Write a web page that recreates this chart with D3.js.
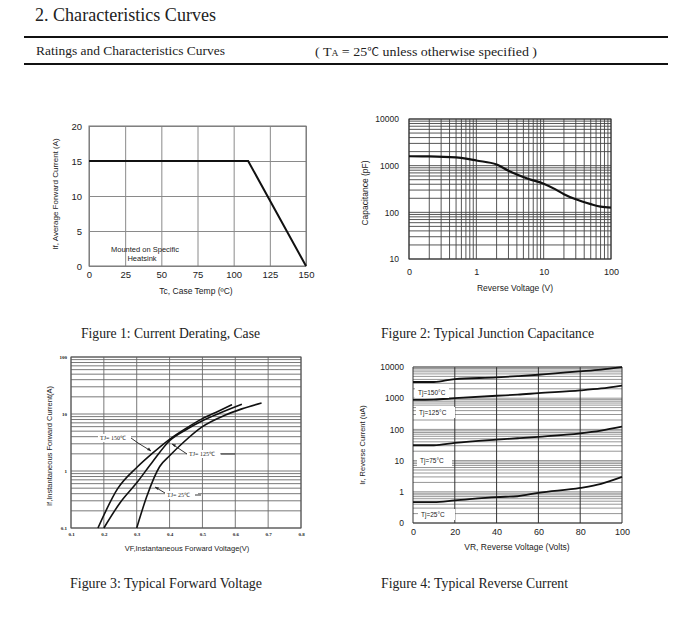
<!DOCTYPE html>
<html><head><meta charset="utf-8">
<script src="https://cdn.jsdelivr.net/npm/d3@7"></script>
<style>
body{margin:0;background:#fff;}
svg text{fill:#222;}
</style></head>
<body>
<svg id="c" width="700" height="627"></svg>
<script>
// ---------- DATA ----------
// Figure 1: Current derating
const derateTemp = [0, 110, 150];
const derateCurrent = [15, 15, 0];
const fig1XTicks = [0, 25, 50, 75, 100, 125, 150];
const fig1YTicks = [0, 5, 10, 15, 20];

// Figure 2: Junction capacitance (V, pF)
const capVoltage = [0.1, 0.2, 0.5, 0.7, 1, 2, 3, 4, 6, 10, 15, 20, 30, 50, 70, 100];
const capValue   = [1590, 1580, 1500, 1420, 1290, 1060, 780, 650, 520, 410, 310, 245, 190, 150, 132, 126];
const fig2XTicks = [0.1, 1, 10, 100];
const fig2XLabels = ["0", "1", "10", "100"];
const fig2YTicks = [10, 100, 1000, 10000];

// Figure 3: Forward voltage (V, A)
const vf150 = [0.182, 0.242, 0.30, 0.35, 0.40, 0.45, 0.50, 0.55, 0.59];
const if150 = [0.1, 0.49, 1.15, 2.1, 3.6, 5.6, 8.3, 11.3, 14.6];
const vf125 = [0.20, 0.25, 0.30, 0.35, 0.40, 0.45, 0.50, 0.55, 0.62];
const if125 = [0.1, 0.28, 0.62, 1.5, 3.4, 5.3, 7.6, 10.2, 14.8];
const vf25  = [0.30, 0.33, 0.37, 0.40, 0.44, 0.50, 0.57, 0.62, 0.68];
const if25  = [0.1, 0.35, 1.2, 1.85, 3.1, 6.0, 9.6, 12.3, 15.6];
const fig3XTicks = [0.1, 0.2, 0.3, 0.4, 0.5, 0.6, 0.7, 0.8];
const fig3YTicks = [0.1, 1, 10, 100];

// Figure 4: Reverse current (V, uA)
const vrVolt = [0, 10, 20, 40, 50, 60, 80, 90, 100];
const ir150 = [3300, 3300, 4100, 4650, 5100, 5650, 7250, 8300, 10000];
const ir125 = [880, 900, 1000, 1200, 1300, 1450, 1770, 2050, 2550];
const ir75  = [31, 31, 37, 47, 52, 58, 75, 92, 122];
const ir25  = [0.47, 0.47, 0.53, 0.68, 0.72, 0.93, 1.33, 1.8, 3.0];
const fig4XTicks = [0, 20, 40, 60, 80, 100];
const fig4YTicks = [0.1, 1, 10, 100, 1000, 10000];
const fig4YLabels = ["0", "1", "10", "100", "1000", "10000"];

// ---------- DRAW ----------
const svg = d3.select("#c");
const serif = "'Liberation Serif','Times New Roman',serif";
const sans = "'Liberation Sans',Arial,sans-serif";

// Header
svg.append("text").attr("x", 35).attr("y", 21).attr("font-family", serif).attr("font-size", 19)
  .attr("textLength", 181).attr("lengthAdjust", "spacingAndGlyphs").text("2. Characteristics Curves");
svg.append("line").attr("x1", 24).attr("x2", 668).attr("y1", 37).attr("y2", 37).attr("stroke", "#111").attr("stroke-width", 2);
svg.append("line").attr("x1", 24).attr("x2", 668).attr("y1", 64).attr("y2", 64).attr("stroke", "#111").attr("stroke-width", 2);
svg.append("text").attr("x", 36).attr("y", 55).attr("font-family", serif).attr("font-size", 13)
  .attr("textLength", 189).attr("lengthAdjust", "spacingAndGlyphs").text("Ratings and Characteristics Curves");
const sub = svg.append("text").attr("x", 315).attr("y", 56).attr("font-family", serif).attr("font-size", 13)
  .attr("textLength", 222).attr("lengthAdjust", "spacingAndGlyphs");
sub.append("tspan").text("( T");
sub.append("tspan").attr("font-size", 9).text("A");
sub.append("tspan").text(" = 25");
sub.append("tspan").attr("font-family", "'Noto Sans CJK SC',serif").attr("font-size", 11).text("℃");
sub.append("tspan").text("  unless otherwise specified )");

// captions
const caps = [["Figure 1: Current Derating, Case", 81, 338, 179], ["Figure 2: Typical Junction Capacitance", 381, 338, 213],
              ["Figure 3: Typical Forward Voltage", 70, 588, 192], ["Figure 4: Typical Reverse Current", 381, 588, 187]];
caps.forEach(c => svg.append("text").attr("x", c[1]).attr("y", c[2]).attr("font-family", serif).attr("font-size", 14)
  .attr("textLength", c[3]).attr("lengthAdjust", "spacingAndGlyphs").text(c[0]));

function logGrid(min, max) {
  const out = [];
  for (let e = Math.floor(Math.log10(min)); e < Math.ceil(Math.log10(max)); e++) {
    for (let d = 1; d <= 9; d++) { const v = d * Math.pow(10, e); if (v >= min && v <= max) out.push(v); }
  }
  out.push(max);
  return out;
}
function zip(a, b) { return a.map((v, i) => [v, b[i]]); }

// ---------- Figure 1 ----------
{
  const x = d3.scaleLinear().domain([0, 150]).range([89, 306]);
  const y = d3.scaleLinear().domain([0, 20]).range([266, 126]);
  const g = svg.append("g");
  g.append("g").attr("transform", "translate(0,266)")
    .call(d3.axisBottom(x).tickValues(fig1XTicks).tickSize(-140).tickSizeOuter(0).tickPadding(5))
    .call(a => { a.select(".domain").remove(); a.selectAll("line").attr("stroke", "#8a8a8a"); a.selectAll("text").attr("font-family", sans).attr("font-size", 9.5).attr("fill", "#222"); });
  g.append("g").attr("transform", "translate(89,0)")
    .call(d3.axisLeft(y).tickValues(fig1YTicks).tickSize(-217).tickSizeOuter(0).tickPadding(7))
    .call(a => { a.select(".domain").remove(); a.selectAll("line").attr("stroke", "#8a8a8a"); a.selectAll("text").attr("font-family", sans).attr("font-size", 9.5).attr("fill", "#222"); });
  g.append("rect").attr("x", 89).attr("y", 126).attr("width", 217).attr("height", 140).attr("fill", "none").attr("stroke", "#777");
  g.append("path").datum(zip(derateTemp, derateCurrent)).attr("fill", "none").attr("stroke", "#111").attr("stroke-width", 2)
    .attr("d", d3.line().x(d => x(d[0])).y(d => y(d[1])));
  g.append("text").attr("x", 145).attr("y", 252).attr("text-anchor", "middle").attr("font-family", sans).attr("font-size", 7.5).text("Mounted on Specific");
  g.append("text").attr("x", 142).attr("y", 261).attr("text-anchor", "middle").attr("font-family", sans).attr("font-size", 7.5).text("Heatsink");
  g.append("text").attr("x", 196).attr("y", 294).attr("text-anchor", "middle").attr("font-family", sans).attr("font-size", 8.5).text("Tc, Case Temp (ºC)");
  g.append("text").attr("transform", "translate(58,194) rotate(-90)").attr("text-anchor", "middle").attr("font-family", sans).attr("font-size", 8).text("If, Average Forward Current (A)");
}

// ---------- Figure 2 ----------
{
  const x = d3.scaleLog().domain([0.1, 100]).range([409, 611]);
  const y = d3.scaleLog().domain([10, 10000]).range([259, 119]);
  const g = svg.append("g");
  g.selectAll(".vx").data(logGrid(0.1, 100)).join("line").attr("x1", d => x(d)).attr("x2", d => x(d)).attr("y1", 119).attr("y2", 259).attr("stroke", "#444").attr("stroke-width", 0.9);
  g.selectAll(".hy").data(logGrid(10, 10000)).join("line").attr("y1", d => y(d)).attr("y2", d => y(d)).attr("x1", 409).attr("x2", 611).attr("stroke", "#444").attr("stroke-width", 0.9);
  g.append("rect").attr("x", 409).attr("y", 119).attr("width", 202).attr("height", 140).attr("fill", "none").attr("stroke", "#333");
  g.append("g").attr("transform", "translate(0,259)")
    .call(d3.axisBottom(x).tickValues(fig2XTicks).tickFormat((d, i) => fig2XLabels[i]).tickSize(0).tickPadding(10))
    .call(a => { a.select(".domain").remove(); a.selectAll("text").attr("font-family", sans).attr("font-size", 9).attr("fill", "#222"); });
  g.append("g").attr("transform", "translate(409,0)")
    .call(d3.axisLeft(y).tickValues(fig2YTicks).tickFormat(d3.format("d")).tickSize(0).tickPadding(10))
    .call(a => { a.select(".domain").remove(); a.selectAll("text").attr("font-family", sans).attr("font-size", 8.5).attr("fill", "#222"); });
  g.append("path").datum(zip(capVoltage, capValue)).attr("fill", "none").attr("stroke", "#111").attr("stroke-width", 2.2)
    .attr("d", d3.line().curve(d3.curveMonotoneX).x(d => x(d[0])).y(d => y(d[1])));
  g.append("text").attr("x", 515).attr("y", 291).attr("text-anchor", "middle").attr("font-family", sans).attr("font-size", 8.5).text("Reverse Voltage (V)");
  g.append("text").attr("transform", "translate(368,193) rotate(-90)").attr("text-anchor", "middle").attr("font-family", sans).attr("font-size", 8.5).text("Capacitance (pF)");
}

// ---------- Figure 3 ----------
{
  const x = d3.scaleLinear().domain([0.1, 0.8]).range([71, 301]);
  const y = d3.scaleLog().domain([0.1, 100]).range([528, 357]);
  const g = svg.append("g");
  g.selectAll(".hy").data(logGrid(0.1, 100)).join("line").attr("y1", d => y(d)).attr("y2", d => y(d)).attr("x1", 71).attr("x2", 301).attr("stroke", "#6a6a6a").attr("stroke-width", 0.9);
  g.selectAll(".vx").data(fig3XTicks).join("line").attr("x1", d => x(d)).attr("x2", d => x(d)).attr("y1", 357).attr("y2", 528).attr("stroke", "#6a6a6a").attr("stroke-width", 0.9);
  g.append("rect").attr("x", 71).attr("y", 357).attr("width", 230).attr("height", 171).attr("fill", "none").attr("stroke", "#555");
  g.append("g").attr("transform", "translate(0,528)")
    .call(d3.axisBottom(x).tickValues(fig3XTicks).tickFormat(d3.format(".1f")).tickSize(0).tickPadding(4))
    .call(a => { a.select(".domain").remove(); a.selectAll("text").attr("font-family", serif).attr("font-weight", "bold").attr("font-size", 5).attr("fill", "#222"); });
  g.append("g").attr("transform", "translate(71,0)")
    .call(d3.axisLeft(y).tickValues(fig3YTicks).tickFormat(d => d < 1 ? "0.1" : d3.format("d")(d)).tickSize(0).tickPadding(4))
    .call(a => { a.select(".domain").remove(); a.selectAll("text").attr("font-family", serif).attr("font-weight", "bold").attr("font-size", 5).attr("fill", "#222"); });
  const line = d3.line().curve(d3.curveMonotoneX).x(d => x(d[0])).y(d => y(d[1]));
  [[vf150, if150], [vf125, if125], [vf25, if25]].forEach(s =>
    g.append("path").datum(zip(s[0], s[1])).attr("fill", "none").attr("stroke", "#111").attr("stroke-width", 1.6).attr("d", line));
  // labels
  const labs = [["TJ= 150℃", 100, 440], ["TJ= 125℃", 189, 456], ["TJ= 25℃", 167, 497]];
  labs.forEach(l => {
    g.append("rect").attr("x", l[1] - 2).attr("y", l[2] - 6).attr("width", 33).attr("height", 8).attr("fill", "#fff");
    g.append("text").attr("x", l[1]).attr("y", l[2]).attr("font-family", serif).attr("font-size", 6).text(l[0]);
  });
  const lk = "#222";
  g.append("polyline").attr("points", "131,438 138,443 151,451").attr("fill", "none").attr("stroke", lk).attr("stroke-width", 0.9);
  g.append("path").attr("d", "M151,451 l-4,-1 l2,-2.5 z").attr("fill", lk);
  g.append("polyline").attr("points", "172,444 187,454").attr("fill", "none").attr("stroke", lk).attr("stroke-width", 0.9);
  g.append("path").attr("d", "M172,444 l4,0.5 l-1.5,2.5 z").attr("fill", lk);
  g.append("line").attr("x1", 221).attr("x2", 235).attr("y1", 454).attr("y2", 454).attr("stroke", lk).attr("stroke-width", 0.9);
  g.append("polyline").attr("points", "165,493 155,487").attr("fill", "none").attr("stroke", lk).attr("stroke-width", 0.9);
  g.append("path").attr("d", "M155,487 l4,0.5 l-1.5,2.5 z").attr("fill", lk);
  g.append("line").attr("x1", 195).attr("x2", 201).attr("y1", 495).attr("y2", 495).attr("stroke", lk).attr("stroke-width", 0.9);
  g.append("text").attr("x", 187).attr("y", 551).attr("text-anchor", "middle").attr("font-family", sans).attr("font-size", 7.5).text("VF,Instantaneous Forward Voltage(V)");
  g.append("text").attr("transform", "translate(52,446) rotate(-90)").attr("text-anchor", "middle").attr("font-family", sans).attr("font-size", 7.5).attr("fill", "#444").text("If,Instantaneous Forward Current(A)");
}

// ---------- Figure 4 ----------
{
  const x = d3.scaleLinear().domain([0, 100]).range([413, 622]);
  const y = d3.scaleLog().domain([0.1, 10000]).range([523, 367]);
  const g = svg.append("g");
  g.selectAll(".hy").data(logGrid(0.1, 10000)).join("line").attr("y1", d => y(d)).attr("y2", d => y(d)).attr("x1", 413).attr("x2", 622).attr("stroke", "#8a8a8a").attr("stroke-width", 0.9);
  g.selectAll(".vx").data(fig4XTicks).join("line").attr("x1", d => x(d)).attr("x2", d => x(d)).attr("y1", 367).attr("y2", 523).attr("stroke", "#333").attr("stroke-width", 1);
  g.append("line").attr("x1", 413).attr("x2", 622).attr("y1", 523).attr("y2", 523).attr("stroke", "#333");
  g.append("line").attr("x1", 413).attr("x2", 622).attr("y1", 367).attr("y2", 367).attr("stroke", "#555");
  g.append("g").attr("transform", "translate(0,523)")
    .call(d3.axisBottom(x).tickValues(fig4XTicks).tickSize(0).tickPadding(6))
    .call(a => { a.select(".domain").remove(); a.selectAll("text").attr("font-family", sans).attr("font-size", 9).attr("fill", "#222"); });
  g.append("g").attr("transform", "translate(413,0)")
    .call(d3.axisLeft(y).tickValues(fig4YTicks).tickFormat((d, i) => fig4YLabels[i]).tickSize(0).tickPadding(9))
    .call(a => { a.select(".domain").remove(); a.selectAll("text").attr("font-family", sans).attr("font-size", 8.5).attr("fill", "#222"); });
  const line = d3.line().curve(d3.curveMonotoneX).x(d => x(d[0])).y(d => y(d[1]));
  [ir150, ir125, ir75, ir25].forEach(s =>
    g.append("path").datum(zip(vrVolt, s)).attr("fill", "none").attr("stroke", "#111").attr("stroke-width", 1.8).attr("d", line));
  const labs = [["Tj=150°C", 415, 387, 34], ["Tj=125°C", 416, 407, 39], ["Tj=75°C", 417, 455, 35], ["Tj=25°C", 418, 509, 37]];
  labs.forEach(l => {
    g.append("rect").attr("x", l[1]).attr("y", l[2]).attr("width", l[3]).attr("height", 11).attr("fill", "#fff");
    g.append("text").attr("x", l[1] + 3).attr("y", l[2] + 8).attr("font-family", sans).attr("font-size", 6.5).text(l[0]);
  });
  g.append("text").attr("x", 517).attr("y", 550).attr("text-anchor", "middle").attr("font-family", sans).attr("font-size", 8.5).text("VR, Reverse Voltage (Volts)");
  g.append("text").attr("transform", "translate(365,445) rotate(-90)").attr("text-anchor", "middle").attr("font-family", sans).attr("font-size", 7.5).text("Ir, Reverse Current (uA)");
}
</script>
</body></html>
